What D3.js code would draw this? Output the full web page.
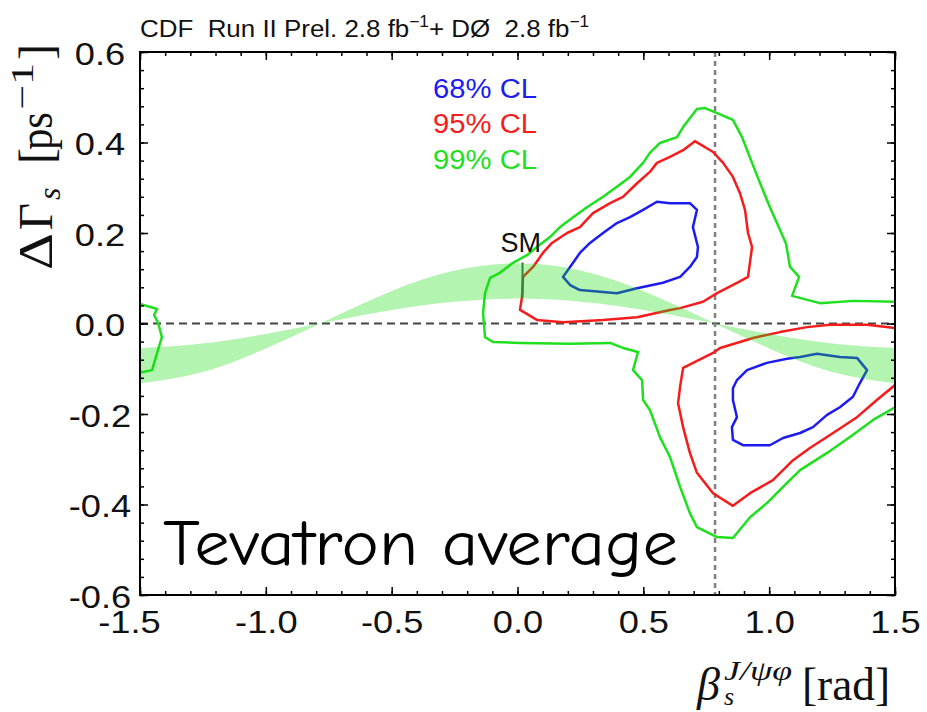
<!DOCTYPE html>
<html>
<head>
<meta charset="utf-8">
<script src="https://cdn.jsdelivr.net/npm/d3@7"></script>
<style>
  html, body { margin: 0; padding: 0; background: #fff; }
  svg { display: block; }
  text { white-space: pre; }
</style>
</head>
<body>
<svg id="chart" width="927" height="712"></svg>
<script>
// ---- axis ticks ----
const xTickValues = [-1.5, -1.0, -0.5, 0.0, 0.5, 1.0, 1.5];
const xTickLabels = ["-1.5", "-1.0", "-0.5", "0.0", "0.5", "1.0", "1.5"];
const yTickValues = [-0.6, -0.4, -0.2, 0.0, 0.2, 0.4, 0.6];
const yTickLabels = ["-0.6", "-0.4", "-0.2", "0.0", "0.2", "0.4", "0.6"];

// ---- Standard Model band: ΔΓs edges vs βs ----
const bandBeta  = [-1.5, -1.25, -1.0, -0.75, -0.5, -0.25, 0.0, 0.25, 0.5, 0.75, 1.0, 1.25, 1.5];
const bandOuter = [-0.132, -0.107, -0.055, 0.009, 0.072, 0.117, 0.133, 0.117, 0.072, 0.009, -0.055, -0.107, -0.132];
const bandInner = [-0.054, -0.044, -0.023, 0.004, 0.030, 0.048, 0.055, 0.048, 0.030, 0.004, -0.023, -0.044, -0.054];

// ---- SM expectation marker ----
const smBeta = 0.02;
const smRange = [0.057, 0.135];
const betaQuarterPi = 0.785;

// ---- confidence-level contours [βs, ΔΓs] ----
const cl99Main = [[1.5,0.048],[1.333,0.050],[1.202,0.045],[1.091,0.061],[1.119,0.103],[1.083,0.125],[1.067,0.176],[1.043,0.207],[1.003,0.257],[0.964,0.310],[0.932,0.355],[0.892,0.412],[0.856,0.450],[0.793,0.465],[0.745,0.476],[0.713,0.474],[0.658,0.434],[0.634,0.412],[0.566,0.399],[0.526,0.377],[0.499,0.355],[0.447,0.324],[0.395,0.302],[0.340,0.280],[0.276,0.257],[0.221,0.235],[0.169,0.213],[0.129,0.191],[0.077,0.169],[0.038,0.151],[-0.018,0.134],[-0.070,0.112],[-0.109,0.101],[-0.129,0.067],[-0.137,0.023],[-0.129,-0.030],[-0.097,-0.041],[0.010,-0.043],[0.209,-0.045],[0.368,-0.043],[0.419,-0.054],[0.479,-0.063],[0.459,-0.103],[0.495,-0.125],[0.499,-0.169],[0.526,-0.191],[0.566,-0.251],[0.606,-0.295],[0.646,-0.361],[0.685,-0.419],[0.713,-0.450],[0.793,-0.472],[0.856,-0.474],[0.924,-0.428],[0.991,-0.397],[1.071,-0.352],[1.123,-0.324],[1.230,-0.286],[1.321,-0.251],[1.413,-0.213],[1.5,-0.185]];
const cl99Left = [[-1.5,0.043],[-1.432,0.032],[-1.444,0.019],[-1.428,0.001],[-1.413,-0.030],[-1.432,-0.065],[-1.452,-0.103],[-1.488,-0.107],[-1.5,-0.107]];
const cl95Upper = [[0.022,0.103],[0.062,0.125],[0.101,0.156],[0.137,0.178],[0.197,0.200],[0.248,0.213],[0.300,0.244],[0.368,0.266],[0.419,0.280],[0.475,0.310],[0.526,0.335],[0.554,0.355],[0.606,0.368],[0.658,0.383],[0.705,0.403],[0.777,0.379],[0.817,0.355],[0.856,0.324],[0.884,0.288],[0.904,0.251],[0.916,0.200],[0.932,0.169],[0.916,0.103],[0.872,0.090],[0.793,0.067],[0.737,0.048],[0.646,0.034],[0.606,0.030],[0.475,0.014],[0.340,0.008],[0.181,0.003],[0.077,0.008],[0.010,0.030],[0.018,0.059]];
const cl95Lower = [[1.5,-0.010],[1.389,-0.003],[1.242,-0.003],[1.150,-0.008],[1.043,-0.019],[0.936,-0.032],[0.805,-0.054],[0.777,-0.065],[0.658,-0.098],[0.646,-0.140],[0.638,-0.176],[0.658,-0.229],[0.685,-0.286],[0.713,-0.330],[0.777,-0.375],[0.856,-0.403],[0.924,-0.375],[1.015,-0.346],[1.095,-0.302],[1.162,-0.275],[1.254,-0.242],[1.349,-0.207],[1.428,-0.169],[1.5,-0.136]];
const cl68Upper = [[0.181,0.103],[0.209,0.125],[0.248,0.156],[0.288,0.178],[0.340,0.200],[0.395,0.222],[0.447,0.235],[0.499,0.251],[0.554,0.269],[0.606,0.266],[0.685,0.266],[0.713,0.251],[0.697,0.213],[0.717,0.169],[0.713,0.147],[0.685,0.125],[0.646,0.103],[0.578,0.090],[0.475,0.078],[0.395,0.067],[0.328,0.070],[0.248,0.074],[0.209,0.085]];
const cl68Lower = [[0.856,-0.143],[0.872,-0.125],[0.912,-0.103],[0.991,-0.087],[1.071,-0.078],[1.123,-0.074],[1.190,-0.067],[1.281,-0.074],[1.349,-0.076],[1.389,-0.103],[1.361,-0.131],[1.333,-0.162],[1.281,-0.185],[1.230,-0.202],[1.174,-0.229],[1.123,-0.242],[1.055,-0.253],[1.003,-0.269],[0.896,-0.269],[0.856,-0.257],[0.852,-0.229],[0.872,-0.207],[0.856,-0.169]];

// ---- legend ----
const legendLabels = ["68% CL", "95% CL", "99% CL"];
const legendColors = ["#1c1cf0", "#f51c1c", "#1ee01e"];

const svg = d3.select("#chart");
const W = 927, H = 712;
const plot = { left: 140, right: 895, top: 52, bottom: 595 };

const x = d3.scaleLinear().domain([-1.5, 1.5]).range([plot.left, plot.right]);
const y = d3.scaleLinear().domain([-0.6, 0.6]).range([plot.bottom, plot.top]);

svg.append("rect").attr("width", W).attr("height", H).attr("fill", "#fff");

svg.append("defs").append("clipPath").attr("id", "plotClip")
  .append("rect")
  .attr("x", plot.left).attr("y", plot.top)
  .attr("width", plot.right - plot.left).attr("height", plot.bottom - plot.top);

const inner = svg.append("g").attr("clip-path", "url(#plotClip)");

// reference lines: ΔΓs = 0 and βs = π/4
inner.append("line")
  .attr("x1", x(-1.5)).attr("x2", x(1.5)).attr("y1", y(0)).attr("y2", y(0))
  .attr("stroke", "#444").attr("stroke-width", 2).attr("stroke-dasharray", "8,5");
inner.append("line")
  .attr("x1", x(betaQuarterPi)).attr("x2", x(betaQuarterPi)).attr("y1", y(0.6)).attr("y2", y(-0.6))
  .attr("stroke", "#808080").attr("stroke-width", 2.5).attr("stroke-dasharray", "5,4");

// contours
const line = d3.line().x(d => x(d[0])).y(d => y(d[1]));
const closed = d3.line().x(d => x(d[0])).y(d => y(d[1])).curve(d3.curveLinearClosed);
const contours = [
  { pts: cl99Main, c: legendColors[2], close: false },
  { pts: cl99Left, c: legendColors[2], close: false },
  { pts: cl95Upper, c: legendColors[1], close: true },
  { pts: cl95Lower, c: legendColors[1], close: false },
  { pts: cl68Upper, c: legendColors[0], close: true },
  { pts: cl68Lower, c: legendColors[0], close: true }
];
inner.selectAll("path.cl").data(contours).join("path")
  .attr("class", "cl")
  .attr("d", d => (d.close ? closed : line)(d.pts))
  .attr("fill", "none")
  .attr("stroke", d => d.c)
  .attr("stroke-width", 2.5)
  .attr("stroke-linejoin", "round");

// SM marker
inner.append("line")
  .attr("x1", x(smBeta)).attr("x2", x(smBeta))
  .attr("y1", y(smRange[0])).attr("y2", y(smRange[1]))
  .attr("stroke", "#555").attr("stroke-width", 2);

// SM band (translucent, on top)
const bandData = bandBeta.map((b, i) => [b, bandOuter[i], bandInner[i]]);
inner.append("path")
  .datum(bandData)
  .attr("d", d3.area().x(d => x(d[0])).y0(d => y(d[1])).y1(d => y(d[2])).curve(d3.curveNatural))
  .attr("fill", "rgb(20,220,10)")
  .attr("fill-opacity", 0.32);

const sansFont = "'Liberation Sans', Arial, Helvetica, sans-serif";

svg.append("text")
  .attr("x", x(smBeta) - 22).attr("y", y(0.158))
  .attr("font-family", sansFont)
  .attr("font-size", 27).attr("fill", "#111")
  .text("SM");

// axes: ticks on all four sides pointing inward
const xMinor = d3.range(-15, 16).map(v => v / 10);
const yMinor = d3.range(-15, 16).map(v => v * 0.04);

function styleAxis(g) {
  g.select(".domain").remove();
  g.selectAll(".tick line").attr("stroke", "#000").attr("stroke-width", 1.5);
}

svg.append("g").attr("transform", `translate(0,${plot.bottom})`)
  .call(d3.axisBottom(x).tickValues(xMinor).tickSizeInner(-4).tickSizeOuter(0).tickFormat(""))
  .call(styleAxis);
const xAxisG = svg.append("g").attr("transform", `translate(0,${plot.bottom})`)
  .call(d3.axisBottom(x).tickValues(xTickValues).tickSizeInner(-8).tickSizeOuter(0)
    .tickFormat((d, i) => xTickLabels[i]))
  .call(styleAxis);
xAxisG.selectAll(".tick text")
  .attr("x", 0).attr("y", 0).attr("dy", 0)
  .attr("transform", (d, i) => `translate(${i === 0 ? -11 : 0},38) scale(1.17,1)`)
  .attr("font-family", sansFont).attr("font-size", 31).attr("fill", "#111")
  .attr("text-anchor", "middle");

svg.append("g").attr("transform", `translate(0,${plot.top})`)
  .call(d3.axisTop(x).tickValues(xMinor).tickSizeInner(-4).tickSizeOuter(0).tickFormat(""))
  .call(styleAxis);
svg.append("g").attr("transform", `translate(0,${plot.top})`)
  .call(d3.axisTop(x).tickValues(xTickValues).tickSizeInner(-8).tickSizeOuter(0).tickFormat(""))
  .call(styleAxis);

svg.append("g").attr("transform", `translate(${plot.left},0)`)
  .call(d3.axisLeft(y).tickValues(yMinor).tickSizeInner(-4).tickSizeOuter(0).tickFormat(""))
  .call(styleAxis);
const yAxisG = svg.append("g").attr("transform", `translate(${plot.left},0)`)
  .call(d3.axisLeft(y).tickValues(yTickValues).tickSizeInner(-8).tickSizeOuter(0)
    .tickFormat((d, i) => yTickLabels[i]))
  .call(styleAxis);
yAxisG.selectAll(".tick text")
  .attr("x", 0).attr("y", 0).attr("dy", "0.36em")
  .attr("transform", "translate(-40,1) scale(1.17,1)")
  .attr("font-family", sansFont).attr("font-size", 31).attr("fill", "#111")
  .attr("text-anchor", "middle");

svg.append("g").attr("transform", `translate(${plot.right},0)`)
  .call(d3.axisRight(y).tickValues(yMinor).tickSizeInner(-4).tickSizeOuter(0).tickFormat(""))
  .call(styleAxis);
svg.append("g").attr("transform", `translate(${plot.right},0)`)
  .call(d3.axisRight(y).tickValues(yTickValues).tickSizeInner(-8).tickSizeOuter(0).tickFormat(""))
  .call(styleAxis);

// frame
svg.append("rect")
  .attr("x", plot.left).attr("y", plot.top)
  .attr("width", plot.right - plot.left).attr("height", plot.bottom - plot.top)
  .attr("fill", "none").attr("stroke", "#000").attr("stroke-width", 2);

// legend
svg.selectAll("text.legend").data(legendLabels).join("text")
  .attr("class", "legend")
  .attr("x", 433).attr("y", (d, i) => 97.5 + i * 35.5)
  .attr("font-family", sansFont).attr("font-size", 27)
  .attr("textLength", 104).attr("lengthAdjust", "spacingAndGlyphs")
  .attr("fill", (d, i) => legendColors[i])
  .text(d => d);

// title
const title = svg.append("text")
  .attr("x", 0).attr("y", 0)
  .attr("transform", "translate(140,37) scale(1.08,1)")
  .attr("font-family", sansFont).attr("font-size", 24).attr("fill", "#111");
title.append("tspan").text("CDF  Run II Prel. 2.8 fb");
title.append("tspan").attr("font-size", 16).attr("dy", -10).text("−1");
title.append("tspan").attr("dy", 10).text("+ DØ  2.8 fb");
title.append("tspan").attr("font-size", 16).attr("dy", -10).text("−1");

// y-axis title ΔΓs [ps−1]
const serif = "'Liberation Serif', 'Times New Roman', serif";
const yt = svg.append("g").attr("transform", "translate(52,270) rotate(-90)")
  .attr("font-family", serif).attr("fill", "#111");
yt.append("text").attr("x", 0).attr("y", 0).attr("font-size", 48)
  .attr("textLength", 37).attr("lengthAdjust", "spacingAndGlyphs").text("Δ");
yt.append("text").attr("x", 40).attr("y", 0).attr("font-size", 48)
  .attr("textLength", 27).attr("lengthAdjust", "spacingAndGlyphs").text("Γ");
yt.append("text").attr("x", 70).attr("y", 8).attr("font-size", 32).attr("font-style", "italic").text("s");
yt.append("text").attr("x", 106).attr("y", 0).attr("font-size", 48).text("[");
yt.append("text").attr("x", 120).attr("y", 0).attr("font-size", 48)
  .attr("textLength", 38).attr("lengthAdjust", "spacingAndGlyphs").text("ps");
yt.append("text").attr("x", 160).attr("y", -19).attr("font-size", 32)
  .attr("textLength", 47).attr("lengthAdjust", "spacingAndGlyphs").text("−1");
yt.append("text").attr("x", 210).attr("y", 0).attr("font-size", 48).text("]");

// x-axis title βs^{J/ψφ} [rad]
const xt = svg.append("g").attr("font-family", serif).attr("fill", "#111");
xt.append("text").attr("x", 697).attr("y", 700).attr("font-size", 46).attr("font-style", "italic").text("β");
xt.append("text").attr("x", 724).attr("y", 705).attr("font-size", 26).attr("font-style", "italic").text("s");
xt.append("text").attr("x", 724).attr("y", 680).attr("font-size", 28).attr("font-style", "italic")
  .attr("textLength", 68).attr("lengthAdjust", "spacingAndGlyphs").text("J/ψφ");
xt.append("text").attr("x", 890).attr("y", 700).attr("font-size", 46)
  .attr("text-anchor", "end")
  .attr("textLength", 88).attr("lengthAdjust", "spacingAndGlyphs")
  .text("[rad]");

// annotation
svg.append("text")
  .attr("x", 163).attr("y", 565)
  .attr("font-family", "'Comic Sans MS', 'Comic Neue', 'DejaVu Sans', sans-serif")
  .attr("font-size", 64).attr("fill", "#000")
  .attr("textLength", 515).attr("lengthAdjust", "spacingAndGlyphs")
  .text("Tevatron average");
</script>
</body>
</html>
